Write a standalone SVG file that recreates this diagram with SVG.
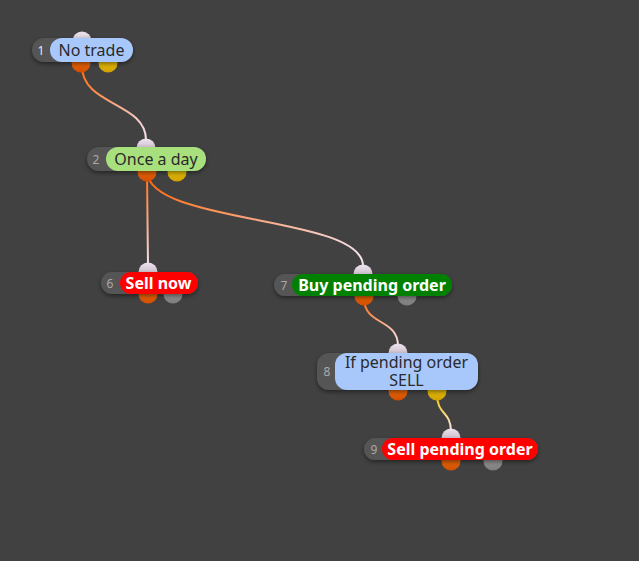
<svg xmlns="http://www.w3.org/2000/svg" width="639" height="561" viewBox="0 0 639 561">
<defs>
<linearGradient id="gIn" x1="0" y1="0" x2="0" y2="1"><stop offset="0" stop-color="#eee4ee"/><stop offset="1" stop-color="#b0a0b0"/></linearGradient>
<linearGradient id="gOr" x1="0" y1="0" x2="0" y2="1"><stop offset="0" stop-color="#ff7a10"/><stop offset="1" stop-color="#d04e00"/></linearGradient>
<linearGradient id="gYe" x1="0" y1="0" x2="0" y2="1"><stop offset="0" stop-color="#f8d810"/><stop offset="1" stop-color="#d0a000"/></linearGradient>
<linearGradient id="gGr" x1="0" y1="0" x2="0" y2="1"><stop offset="0" stop-color="#a8a8a8"/><stop offset="1" stop-color="#7c7c7c"/></linearGradient>
<linearGradient id="c1" gradientUnits="userSpaceOnUse" x1="82" y1="66" x2="146" y2="140"><stop offset="0" stop-color="#ff6a10"/><stop offset="1" stop-color="#f4e4ee"/></linearGradient>
<linearGradient id="c2" gradientUnits="userSpaceOnUse" x1="147" y1="172" x2="148" y2="266"><stop offset="0" stop-color="#ff6a10"/><stop offset="1" stop-color="#f4e4ee"/></linearGradient>
<linearGradient id="c3" gradientUnits="userSpaceOnUse" x1="147" y1="172" x2="363" y2="266"><stop offset="0" stop-color="#ff6a10"/><stop offset="1" stop-color="#f4e4ee"/></linearGradient>
<linearGradient id="c4" gradientUnits="userSpaceOnUse" x1="364" y1="298" x2="398" y2="346"><stop offset="0" stop-color="#ff6a10"/><stop offset="1" stop-color="#f4e4ee"/></linearGradient>
<linearGradient id="c5" gradientUnits="userSpaceOnUse" x1="437" y1="394" x2="451" y2="432"><stop offset="0" stop-color="#f0c800"/><stop offset="1" stop-color="#f4e4ee"/></linearGradient>
<filter id="sh" x="-20%" y="-40%" width="140%" height="180%"><feDropShadow dx="0" dy="2" stdDeviation="2" flood-color="#000" flood-opacity="0.45"/></filter>
</defs>
<style>
.wire{fill:none;stroke-width:2;stroke-linecap:round}
.base{fill:#545454}
.num{font-family:"Noto Sans","Open Sans",sans-serif;font-size:12px;fill:#aaaaaa;text-anchor:middle}
.lbl{font-family:"Noto Sans","Open Sans",sans-serif;font-size:16px;fill:#2a2a2a;text-anchor:middle}
.blbl{font-family:"Noto Sans","Open Sans",sans-serif;font-size:16px;font-weight:bold;fill:#ffffff;text-anchor:middle}
.pin{fill:url(#gIn)}
.por{fill:url(#gOr)}
.pye{fill:url(#gYe)}
.pgr{fill:url(#gGr)}
</style>
<rect width="639" height="561" fill="#414141"/>
<g id="connectors">
<path class="wire" stroke="url(#c1)" d="M82,66 C82,106 146,102 146,140"/>
<path class="wire" stroke="url(#c2)" d="M147,172 L148,266"/>
<path class="wire" stroke="url(#c3)" d="M147,172 C150,225 363,215 363,266"/>
<path class="wire" stroke="url(#c4)" d="M364,298 C364,326 398,318 398,346"/>
<path class="wire" stroke="url(#c5)" d="M437,394 C437,416 451,410 451,432"/>
</g>
<g id="node1">
<circle class="pin" cx="82" cy="41" r="9.5"/>
<circle class="por" cx="81" cy="63" r="9.5"/>
<circle class="pye" cx="108" cy="63" r="9.5"/>
<rect class="base" x="32" y="38" width="101" height="24" rx="12" filter="url(#sh)"/>
<rect x="50" y="38" width="83" height="24" rx="12" fill="#a8c8fc"/>
<text class="num" x="41" y="54.5" style="fill:#e6e6e6">1</text>
<text class="lbl" x="91.5" y="55.5">No trade</text>
</g>
<g id="node2">
<circle class="pin" cx="146" cy="148" r="9.5"/>
<circle class="por" cx="147" cy="172" r="9.5"/>
<circle class="pye" cx="177" cy="172" r="9.5"/>
<rect class="base" x="87" y="147" width="119" height="24" rx="12" filter="url(#sh)"/>
<rect x="106" y="147" width="100" height="24" rx="12" fill="#a8e07e"/>
<text class="num" x="96" y="163.5">2</text>
<text class="lbl" x="156" y="164.5">Once a day</text>
</g>
<g id="node6">
<circle class="pin" cx="148" cy="272" r="9.5"/>
<circle class="por" cx="148" cy="294" r="9.5"/>
<circle class="pgr" cx="173" cy="294" r="9.5"/>
<rect class="base" x="101" y="272" width="97" height="22" rx="11" filter="url(#sh)"/>
<rect x="120" y="272" width="78" height="22" rx="11" fill="#ff0000"/>
<text class="num" x="110" y="287.5">6</text>
<text class="blbl" x="158.5" y="288.5">Sell now</text>
</g>
<g id="node7">
<circle class="pin" cx="363" cy="274" r="9.5"/>
<circle class="por" cx="364" cy="296" r="9.5"/>
<circle class="pgr" cx="407" cy="296" r="9.5"/>
<rect class="base" x="274" y="274" width="178" height="22" rx="11" filter="url(#sh)"/>
<rect x="292" y="274" width="160" height="22" rx="11" fill="#008000"/>
<text class="num" x="284" y="289.5">7</text>
<text class="blbl" x="372" y="290.5">Buy pending order</text>
</g>
<g id="node8">
<circle class="pin" cx="398" cy="353" r="9.5"/>
<circle class="por" cx="398" cy="391" r="9.5"/>
<circle class="pye" cx="437" cy="391" r="9.5"/>
<rect class="base" x="317" y="353" width="161" height="37" rx="12" filter="url(#sh)"/>
<rect x="335" y="353" width="143" height="37" rx="12" fill="#a8c8fc"/>
<text class="num" x="327" y="376">8</text>
<text class="lbl" x="406.5" y="368">If pending order</text>
<text class="lbl" x="406.5" y="385.5">SELL</text>
</g>
<g id="node9">
<circle class="pin" cx="451" cy="438" r="9.5"/>
<circle class="por" cx="451" cy="461" r="9.5"/>
<circle class="pgr" cx="493" cy="461" r="9.5"/>
<rect class="base" x="364" y="438" width="174" height="22" rx="11" filter="url(#sh)"/>
<rect x="382" y="438" width="156" height="22" rx="11" fill="#ff0000"/>
<text class="num" x="374" y="453.5">9</text>
<text class="blbl" x="460" y="454.5">Sell pending order</text>
</g>
</svg>
